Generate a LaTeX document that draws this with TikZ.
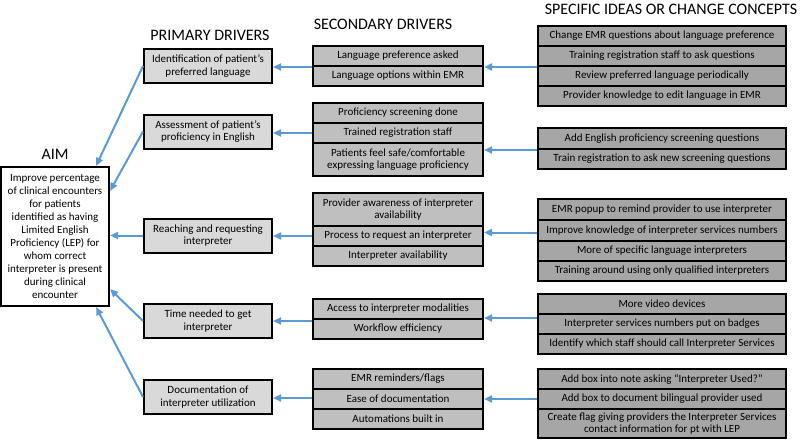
\documentclass[tikz,border=0pt]{standalone}
\usepackage{fontspec}
\setmainfont{Carlito}
\usetikzlibrary{arrows.meta,calc}
\definecolor{pfill}{HTML}{D9D9D9}
\definecolor{sfill}{HTML}{BFBFBF}
\definecolor{cfill}{HTML}{A6A6A6}
\definecolor{arr}{HTML}{5B9BD5}
\begin{document}
\begin{tikzpicture}[x=1pt,y=1pt,
  cell/.style={draw=black, line width=2pt, inner sep=0pt, align=center, font=\fontsize{11}{12.3}\selectfont},
  prim/.style={cell, fill=pfill, minimum width=128pt, minimum height=34pt},
  sec/.style={cell, fill=sfill, minimum width=170pt},
  spec/.style={cell, fill=cfill, minimum width=248pt},
  ttl/.style={font=\fontsize{16}{18}\selectfont, inner sep=0pt},
  link/.style={draw=arr, line width=2pt, -{Triangle[length=8pt,width=7pt]}}]
\useasboundingbox (0,0) rectangle (800,-442);
% titles
\node[ttl] (taim) at (55,-154) {AIM};
\node[ttl] (tprim) at (210,-35) {PRIMARY DRIVERS};
\node[ttl] (tsec) at (383,-24) {SECONDARY DRIVERS};
\node[ttl] (tspec) at (671,-9) {SPECIFIC IDEAS OR CHANGE CONCEPTS};
% aim
\node[cell, fill=white, line width=2.2pt, minimum width=108pt, minimum height=139pt, font=\fontsize{11}{13}\selectfont] (aim) at (55,-236.5)
 {Improve percentage\\of clinical encounters\\for patients\\identified as having\\Limited English\\Proficiency (LEP) for\\whom correct\\interpreter is present\\during clinical\\encounter};
% primary
\node[prim] (p1) at (208,-66) {Identification of patient’s\\preferred language};
\node[prim] (p2) at (208,-131.5) {Assessment of patient’s\\proficiency in English};
\node[prim] (p3) at (208,-235.5) {Reaching and requesting\\interpreter};
\node[prim] (p4) at (208,-321) {Time needed to get\\interpreter};
\node[prim] (p5) at (208,-397) {Documentation of\\interpreter utilization};
% secondary
\node[sec, minimum height=20pt] (s1a) at (398,-56) {Language preference asked};
\node[sec, minimum height=20pt] (s1b) at (398,-76) {Language options within EMR};
\node[sec, minimum height=20pt] (s2a) at (398,-113) {Proficiency screening done};
\node[sec, minimum height=20pt] (s2b) at (398,-133) {Trained registration staff};
\node[sec, minimum height=33pt] (s2c) at (398,-159.5) {Patients feel safe/comfortable\\expressing language proficiency};
\node[sec, minimum height=33pt] (s3a) at (398,-209.5) {Provider awareness of interpreter\\availability};
\node[sec, minimum height=20pt] (s3b) at (398,-236) {Process to request an interpreter};
\node[sec, minimum height=20pt] (s3c) at (398,-256) {Interpreter availability};
\node[sec, minimum height=20pt] (s4a) at (398,-309) {Access to interpreter modalities};
\node[sec, minimum height=20pt] (s4b) at (398,-329) {Workflow efficiency};
\node[sec, minimum height=20pt] (s5a) at (398,-379) {EMR reminders/flags};
\node[sec, minimum height=20pt] (s5b) at (398,-399) {Ease of documentation};
\node[sec, minimum height=20pt] (s5c) at (398,-419) {Automations built in};
% specific ideas
\node[spec, minimum height=20pt] (c1a) at (662,-36) {Change EMR questions about language preference};
\node[spec, minimum height=20pt] (c1b) at (662,-56) {Training registration staff to ask questions};
\node[spec, minimum height=20pt] (c1c) at (662,-76) {Review preferred language periodically};
\node[spec, minimum height=20pt] (c1d) at (662,-96) {Provider knowledge to edit language in EMR};
\node[spec, minimum height=21pt] (c2a) at (662,-138.5) {Add English proficiency screening questions};
\node[spec, minimum height=20pt] (c2b) at (662,-159) {Train registration to ask new screening questions};
\node[spec, minimum height=21pt] (c3a) at (662,-209.5) {EMR popup to remind provider to use interpreter};
\node[spec, minimum height=21pt] (c3b) at (662,-230.5) {Improve knowledge of interpreter services numbers};
\node[spec, minimum height=20pt] (c3c) at (662,-251) {More of specific language interpreters};
\node[spec, minimum height=20pt] (c3d) at (662,-271) {Training around using only qualified interpreters};
\node[spec, minimum height=20pt] (c4a) at (662,-304) {More video devices};
\node[spec, minimum height=20pt] (c4b) at (662,-324) {Interpreter services numbers put on badges};
\node[spec, minimum height=20pt] (c4c) at (662,-344) {Identify which staff should call Interpreter Services};
\node[spec, minimum height=20pt] (c5a) at (662,-379) {Add box into note asking “Interpreter Used?”};
\node[spec, minimum height=20pt] (c5b) at (662,-399) {Add box to document bilingual provider used};
\node[spec, minimum height=29pt] (c5c) at (662,-423.5) {Create flag giving providers the Interpreter Services\\contact information for pt with LEP};
% specific -> secondary
\draw[link] (c1b.south west) -- (c1b.south west -| s1a.east);
\draw[link] (c2a.south west) -- (c2a.south west -| s2c.east);
\draw[link] ($(c3b.west)+(0,-2)$) -- ($(c3b.west -| s3b.east)+(0,-2)$);
\draw[link] ($(c4b.west)+(0,6)$) -- ($(c4b.west -| s4a.east)+(0,6)$);
\draw[link] (c5b.west) -- (c5b.west -| s5b.east);
% secondary -> primary
\draw[link] (s1a.south west) -- (s1a.south west -| p1.east);
\draw[link] (s2b.west) -- (s2b.west -| p2.east);
\draw[link] (s3b.west) -- (s3b.west -| p3.east);
\draw[link] ($(s4a.south west)+(0,-1)$) -- ($(s4a.south west -| p4.east)+(0,-1)$);
\draw[link] ($(s5b.west)+(0,1)$) -- ($(s5b.west -| p5.east)+(0,1)$);
% primary -> aim
\draw[link] (p1.west) -- ($(aim.north east)+(-14,0)$);
\draw[link] (p2.west) -- ($(aim.north east)+(0,-25)$);
\draw[link] (p3.west) -- (p3.west -| aim.east);
\draw[link] (p4.west) -- ($(aim.south east)+(0,18)$);
\draw[link] (p5.west) -- ($(aim.south east)+(-14,0)$);
\end{tikzpicture}
\end{document}
